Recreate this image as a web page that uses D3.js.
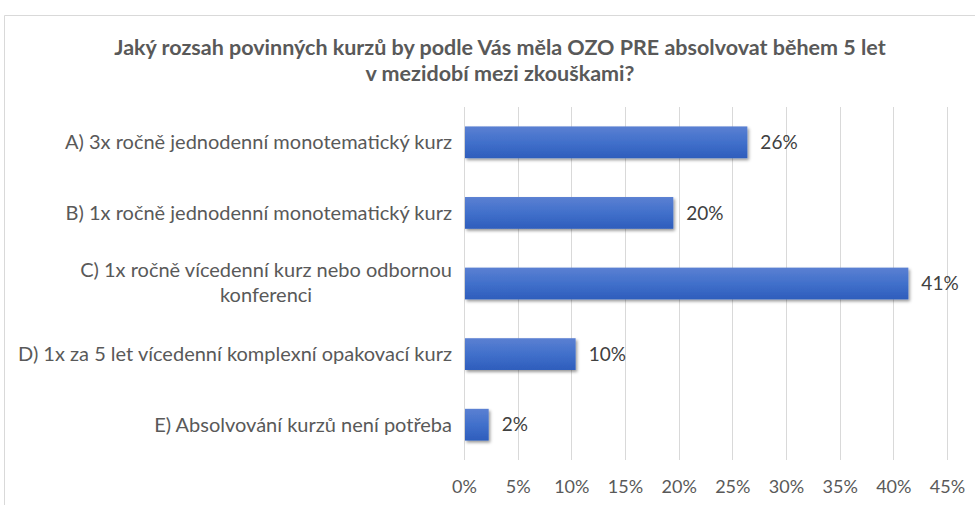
<!DOCTYPE html>
<html>
<head>
<meta charset="utf-8">
<script src="https://cdn.jsdelivr.net/npm/d3@7/dist/d3.min.js"></script>
<style>
  html, body { margin: 0; padding: 0; background: #fff; }
  svg { display: block; }
  text { font-family: Lato, "Open Sans", sans-serif; }
</style>
</head>
<body>
<svg id="chart" width="975" height="505"></svg>
<script>
const titleLines = ["Jaký rozsah povinných kurzů by podle Vás měla OZO PRE absolvovat během 5 let", "v mezidobí mezi zkouškami?"];
const categories = [
  ["A) 3x ročně jednodenní monotematický kurz"],
  ["B) 1x ročně jednodenní monotematický kurz"],
  ["C) 1x ročně vícedenní kurz nebo odbornou", "konferenci"],
  ["D) 1x za 5 let vícedenní komplexní opakovací kurz"],
  ["E) Absolvování kurzů není potřeba"]
];
const values = [0.264, 0.195, 0.414, 0.104, 0.023];
const tickValues = [0, 0.05, 0.10, 0.15, 0.20, 0.25, 0.30, 0.35, 0.40, 0.45];

const svg = d3.select("#chart");
const W = 975, H = 505;
const plot = {left: 464, right: 947, top: 107, bottom: 460};

// frame
svg.append("path")
  .attr("d", `M4.5,${H} L4.5,15.5 L${W},15.5`)
  .attr("fill", "none").attr("stroke", "#d9d9d9").attr("stroke-width", 1);

// defs
const defs = svg.append("defs");
const grad = defs.append("linearGradient").attr("id", "barGrad")
  .attr("x1", 0).attr("y1", 0).attr("x2", 0).attr("y2", 1);
grad.append("stop").attr("offset", "0%").attr("stop-color", "#5b80d2");
grad.append("stop").attr("offset", "50%").attr("stop-color", "#4170cb");
grad.append("stop").attr("offset", "100%").attr("stop-color", "#2e5dbc");
const filt = defs.append("filter").attr("id", "shadow")
  .attr("x", "-10%").attr("y", "-20%").attr("width", "130%").attr("height", "160%");
filt.append("feDropShadow").attr("dx", 1.5).attr("dy", 2).attr("stdDeviation", 1.6)
  .attr("flood-color", "#000").attr("flood-opacity", 0.4);

const x = d3.scaleLinear().domain([0, 0.45]).range([plot.left, plot.right]);
const y = d3.scaleBand().domain(d3.range(categories.length))
  .range([plot.top, plot.bottom]).paddingInner(0.55).paddingOuter(0.275);

// gridlines
svg.append("g").selectAll("line").data(tickValues).join("line")
  .attr("x1", d => Math.round(x(d)) + 0.5).attr("x2", d => Math.round(x(d)) + 0.5)
  .attr("y1", plot.top).attr("y2", plot.bottom)
  .attr("stroke", "#d9d9d9").attr("stroke-width", 1);

// x axis labels
const fmt = d3.format(".0%");
const xAxis = d3.axisBottom(x).tickValues(tickValues).tickFormat(fmt).tickSize(0).tickPadding(0);
const gx = svg.append("g").attr("transform", `translate(0,${plot.bottom})`).call(xAxis);
gx.select(".domain").remove();
gx.selectAll("text").attr("y", 33).attr("dy", 0)
  .attr("fill", "#595959").style("font-size", "18px").style("font-family", "Lato, sans-serif");

// bars
svg.append("g").selectAll("rect").data(values).join("rect")
  .attr("x", x(0) + 1)
  .attr("y", (d, i) => y(i))
  .attr("width", d => x(d) - x(0) - 1)
  .attr("height", y.bandwidth())
  .attr("fill", "url(#barGrad)")
  .attr("filter", "url(#shadow)");

// data labels
svg.append("g").selectAll("text").data(values).join("text")
  .attr("x", d => x(d) + 13)
  .attr("y", (d, i) => y(i) + y.bandwidth() / 2)
  .attr("dy", "0.35em")
  .attr("fill", "#404040").style("font-size", "19px")
  .text(d => fmt(d));

// category labels
const labelRight = 452;
const labelSize = "20px";
const gl = svg.append("g");
categories.forEach((lines, i) => {
  const cy = y(i) + y.bandwidth() / 2;
  const lh = 25;
  const t = gl.append("text").attr("fill", "#595959").style("font-size", labelSize);
  if (lines.length === 1) {
    t.attr("x", labelRight).attr("y", cy).attr("dy", "0.35em").attr("text-anchor", "end").text(lines[0]);
  } else {
    const tmp = gl.append("text").style("font-size", labelSize).text(lines[0]);
    const w = tmp.node().getComputedTextLength();
    tmp.remove();
    const cx = labelRight - w / 2;
    t.attr("text-anchor", "middle");
    lines.forEach((ln, j) => {
      t.append("tspan").attr("x", cx)
        .attr("y", cy - 1 + (j - (lines.length - 1) / 2) * lh)
        .attr("dy", "0.35em").text(ln);
    });
  }
});

// title
svg.append("g").selectAll("text").data(titleLines).join("text")
  .attr("x", 500).attr("y", (d, i) => 47 + i * 26)
  .attr("dy", "0.35em").attr("text-anchor", "middle")
  .attr("fill", "#595959").style("font-size", "21.5px").style("font-weight", "bold")
  .text(d => d);
</script>
</body>
</html>
